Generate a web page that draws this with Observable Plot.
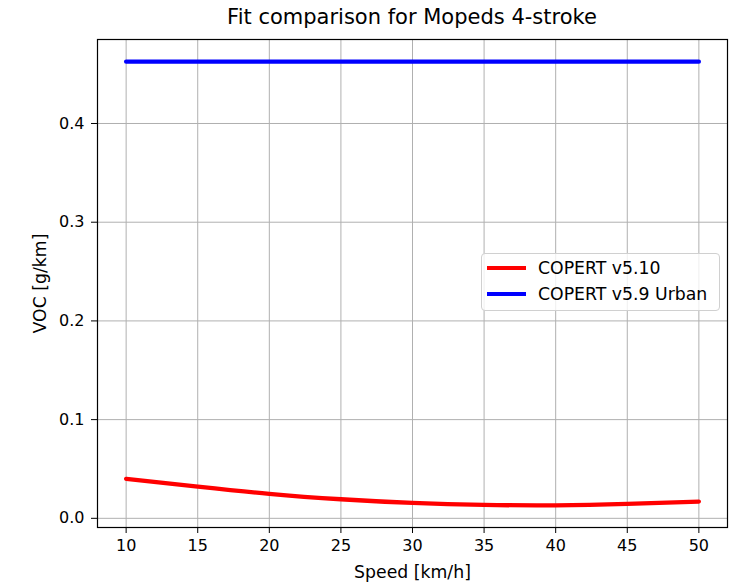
<!DOCTYPE html>
<html>
<head>
<meta charset="utf-8">
<script src="https://cdn.jsdelivr.net/npm/d3@7"></script>
<script src="https://cdn.jsdelivr.net/npm/@observablehq/plot@0.6"></script>
<style>
  html, body { margin: 0; padding: 0; background: #fff; }
  #wrap { position: relative; width: 744px; height: 583px; font-family: "DejaVu Sans", sans-serif; }
  #title { position: absolute; left: 97px; width: 630px; top: 5px; text-align: center; font-size: 21px; color: #000; }
  #legend { position: absolute; left: 481px; top: 253px; width: 237px; height: 56px; border: 1px solid #d0d0d0; border-radius: 4px; background: rgba(255,255,255,0.8); font-size: 17.3px; color: #000; }
  .row { position: absolute; left: 5px; height: 20px; display: flex; align-items: center; }
  .sw { width: 39px; height: 4px; margin-right: 12px; }
</style>
</head>
<body>
<div id="wrap">
  <div id="chart"></div>
  <div id="title">Fit comparison for Mopeds 4-stroke</div>
  <div id="legend"></div>
</div>
<script>
// Speeds (km/h)
const speeds = [10, 15, 20, 25, 30, 35, 40, 45, 50];
// COPERT v5.10 VOC (g/km)
const copert510 = [0.0400, 0.0322, 0.0248, 0.0193, 0.0156, 0.0136, 0.0132, 0.0146, 0.0170];
// COPERT v5.9 Urban VOC (g/km), constant
const copert59Urban = [0.4626, 0.4626, 0.4626, 0.4626, 0.4626, 0.4626, 0.4626, 0.4626, 0.4626];
const seriesNames = ["COPERT v5.10", "COPERT v5.9 Urban"];
const seriesColors = ["#ff0000", "#0000ff"];
const xTicks = [10, 15, 20, 25, 30, 35, 40, 45, 50];
const yTicks = [0, 0.1, 0.2, 0.3, 0.4];

const data = [];
speeds.forEach((s, i) => {
  data.push({speed: s, voc: copert510[i], series: seriesNames[0]});
  data.push({speed: s, voc: copert59Urban[i], series: seriesNames[1]});
});

const chart = Plot.plot({
  width: 744,
  height: 583,
  marginLeft: 97,
  marginRight: 17,
  marginTop: 39,
  marginBottom: 56,
  style: {fontFamily: "DejaVu Sans, sans-serif", fontSize: "16px", color: "#000", background: "#fff"},
  x: {domain: [8, 52]},
  y: {domain: [-0.0093, 0.4851]},
  color: {domain: seriesNames, range: seriesColors},
  marks: [
    Plot.gridX(xTicks, {stroke: "#b0b0b0", strokeOpacity: 1, strokeWidth: 1}),
    Plot.gridY(yTicks, {stroke: "#b0b0b0", strokeOpacity: 1, strokeWidth: 1}),
    Plot.line(data, {x: "speed", y: "voc", z: "series", stroke: "series", strokeWidth: 4.3, curve: "natural"}),
    Plot.frame({stroke: "#000", strokeWidth: 1.2}),
    Plot.axisX(xTicks, {tickSize: 6, tickPadding: 6, fontSize: 16, label: null}),
    Plot.axisX({label: "Speed [km/h]", labelAnchor: "center", labelArrow: "none", labelOffset: 50, fontSize: 17.3, ticks: [], tickSize: 0}),
    Plot.axisY(yTicks, {tickSize: 6, tickPadding: 7, fontSize: 16, tickFormat: d3.format(".1f"), label: null}),
    Plot.axisY({label: "VOC [g/km]", labelAnchor: "center", labelArrow: "none", labelOffset: 64, fontSize: 17.3, ticks: [], tickSize: 0})
  ]
});
document.getElementById("chart").appendChild(chart);

const legend = document.getElementById("legend");
seriesNames.forEach((name, i) => {
  const row = document.createElement("div");
  row.className = "row";
  row.style.top = (4 + i * 26) + "px";
  const sw = document.createElement("div");
  sw.className = "sw";
  sw.style.background = seriesColors[i];
  const t = document.createElement("span");
  t.textContent = name;
  row.appendChild(sw);
  row.appendChild(t);
  legend.appendChild(row);
});
</script>
</body>
</html>
